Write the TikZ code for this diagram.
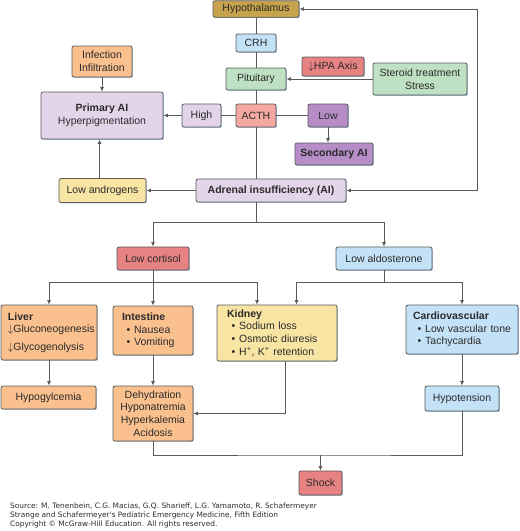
\documentclass[tikz,border=0pt]{standalone}
\usepackage{fontspec}
\setmainfont{Liberation Sans}
\newfontfamily\srcfont{DejaVu Sans}
\usetikzlibrary{arrows.meta,shadows}
\definecolor{linec}{HTML}{5A5A5A}
\definecolor{txtc}{HTML}{2A2A2A}
\definecolor{goldc}{HTML}{C7A34C}
\definecolor{bluec}{HTML}{C4E2F7}
\definecolor{greenc}{HTML}{BEE0C3}
\definecolor{redc}{HTML}{E68282}
\definecolor{pinkc}{HTML}{F3A8A2}
\definecolor{lilacc}{HTML}{E4D4EA}
\definecolor{purplec}{HTML}{B68DC6}
\definecolor{orangec}{HTML}{FAC18F}
\definecolor{yellowc}{HTML}{F8E4A3}
\definecolor{shadowc}{HTML}{A8C0D8}
\newcommand{\bulletitem}{\hspace*{4.5pt}\textbullet\hspace{4pt}}
\tikzset{
  box/.style={draw=linec, line width=0.8pt, rounded corners=2pt, inner sep=0pt,
    align=center, text=txtc, font=\fontsize{10.5}{12.7}\selectfont,
    drop shadow={shadow xshift=0.9pt, shadow yshift=-0.9pt, fill=shadowc, opacity=1}},
  link/.style={draw=linec, line width=0.8pt},
  arr/.style={link, -{Latex[length=4.5pt,width=4pt]}},
}
\begin{document}
\begin{tikzpicture}[x=1pt, y=-1pt]
\useasboundingbox (0,0) rectangle (520,531);
% HPA axis
\node[box, fill=goldc, minimum width=86pt, minimum height=16.5pt] (hyp) at (256,9) {Hypothalamus};
\node[box, fill=bluec, minimum width=40pt, minimum height=18pt] (crh) at (256,43) {CRH};
\node[box, fill=greenc, minimum width=60pt, minimum height=22pt] (pit) at (256,79) {Pituitary};
\node[box, fill=pinkc, minimum width=40pt, minimum height=23pt] (acth) at (256,115.5) {ACTH};
\node[box, fill=lilacc, minimum width=39pt, minimum height=23pt] (high) at (201.5,115.5) {High};
\node[box, fill=purplec, minimum width=40pt, minimum height=23pt] (low) at (328,115.5) {Low};
\node[box, fill=purplec, minimum width=78pt, minimum height=22pt] (sec) at (334,154) {\textbf{Secondary AI}};
\node[box, fill=redc, minimum width=62pt, minimum height=19pt] (hpa) at (333,66.5) {$\downarrow$HPA Axis};
\node[box, fill=greenc, minimum width=94pt, minimum height=32pt] (ster) at (420,79) {Steroid treatment\\Stress};
\node[box, fill=lilacc, minimum width=150pt, minimum height=23pt] (adr) at (271,190.5) {\textbf{Adrenal insufficiency (AI)}};
\node[box, fill=orangec, minimum width=60pt, minimum height=31pt] (inf) at (102,61.5) {Infection\\Infiltration};
\node[box, fill=lilacc, minimum width=122pt, minimum height=47pt] (pri) at (102,115.5) {\textbf{Primary AI}\\Hyperpigmentation};
\node[box, fill=yellowc, minimum width=87pt, minimum height=24pt] (andr) at (102.5,190.5) {Low androgens};
\node[box, fill=redc, minimum width=72pt, minimum height=23pt] (cort) at (153,258.5) {Low cortisol};
\node[box, fill=bluec, minimum width=96pt, minimum height=23pt] (aldo) at (384,258.5) {Low aldosterone};
% organ boxes
\node[box, fill=orangec, minimum width=96pt, minimum height=55pt, text width=82pt, inner xsep=7pt, align=left] (liver) at (49,332.5)
  {\textbf{Liver}\\$\downarrow$Gluconeogenesis\\[5pt]$\downarrow$Glycogenolysis};
\node[box, fill=orangec, minimum width=80pt, minimum height=49pt, text width=62pt, inner xsep=9pt, align=left] (intest) at (153,330.5)
  {\textbf{Intestine}\\\bulletitem Nausea\\\bulletitem Vomiting};
\node[box, fill=yellowc, minimum width=120pt, minimum height=56pt, text width=100pt, inner xsep=10pt, align=left] (kid) at (277,333)
  {\textbf{Kidney}\\\bulletitem Sodium loss\\\bulletitem Osmotic diuresis\\\bulletitem H\textsuperscript{+}, K\textsuperscript{+} retention};
\node[box, fill=bluec, minimum width=112pt, minimum height=49pt, text width=98pt, inner xsep=7pt, align=left] (cardio) at (462,329.5)
  {\textbf{Cardiovascular}\\\bulletitem Low vascular tone\\\bulletitem Tachycardia};
% outcomes
\node[box, fill=orangec, minimum width=95pt, minimum height=23pt] (hypog) at (48.5,397.5) {Hypogylcemia};
\node[box, fill=orangec, minimum width=80pt, minimum height=55pt] (dehyd) at (153,413.5) {Dehydration\\Hyponatremia\\Hyperkalemia\\Acidosis};
\node[box, fill=bluec, minimum width=74pt, minimum height=25pt] (hypot) at (462,398.5) {Hypotension};
\node[box, fill=redc, minimum width=43pt, minimum height=24pt] (shock) at (320.5,483) {Shock};
\node[anchor=north west, align=left, inner sep=0pt, text=txtc, font=\srcfont\fontsize{7.4}{8.7}\selectfont] (src) at (10,503)
  {Source: M. Tenenbein, C.G. Macias, G.Q. Sharieff, L.G. Yamamoto, R. Schafermeyer\\
   Strange and Schafermeyer's Pediatric Emergency Medicine, Fifth Edition\\
   Copyright \textcopyright{} McGraw-Hill Education. All rights reserved.};

% connectors
\draw[link] (hyp) -- (crh) -- (pit) -- (acth) -- (acth |- adr.north);
\draw[link] (acth) -- (high);
\draw[arr] (high) -- (pri);
\draw[link] (acth) -- (low);
\draw[arr] (low) -- (low |- sec.north);
\draw[arr] (ster) -- (pit);
\draw[arr] (inf) -- (pri);
\draw[arr] ([xshift=-3pt]andr.north) -- ([xshift=-3pt]andr.north |- pri.south);
\draw[arr] (adr) -- (andr);
\coordinate (fb) at (477,9);
\draw[link, {Latex[length=4.5pt,width=4pt]}-{Latex[length=4.5pt,width=4pt]}] (hyp) -- (fb) |- (adr);
\coordinate (sp1) at (256,222);
\draw[link] (acth |- adr.south) -- (sp1);
\draw[arr] (sp1) -| (cort);
\draw[arr] (sp1) -| (aldo);
\coordinate (sp2) at (153,282);
\draw[link] (cort) -- (sp2);
\draw[arr] (sp2) -| (liver);
\draw[arr] (sp2) -- (intest);
\draw[arr] (sp2) -| ([xshift=-20pt]kid.north);
\coordinate (sp3) at (384,282);
\draw[link] (aldo) -- (sp3);
\draw[arr] (sp3) -| ([xshift=19.5pt]kid.north);
\draw[arr] (sp3) -| (cardio);
\draw[arr] (liver) -- (liver |- hypog.north);
\draw[arr] (intest) -- (dehyd);
\draw[arr] ([xshift=8pt]kid.south) |- (dehyd);
\draw[arr] (cardio) -- (hypot);
\coordinate (sp4) at (320.5,455);
\draw[link] (dehyd) |- (sp4) -| (hypot);
\draw[arr] (sp4) -- (shock);
\end{tikzpicture}
\end{document}
